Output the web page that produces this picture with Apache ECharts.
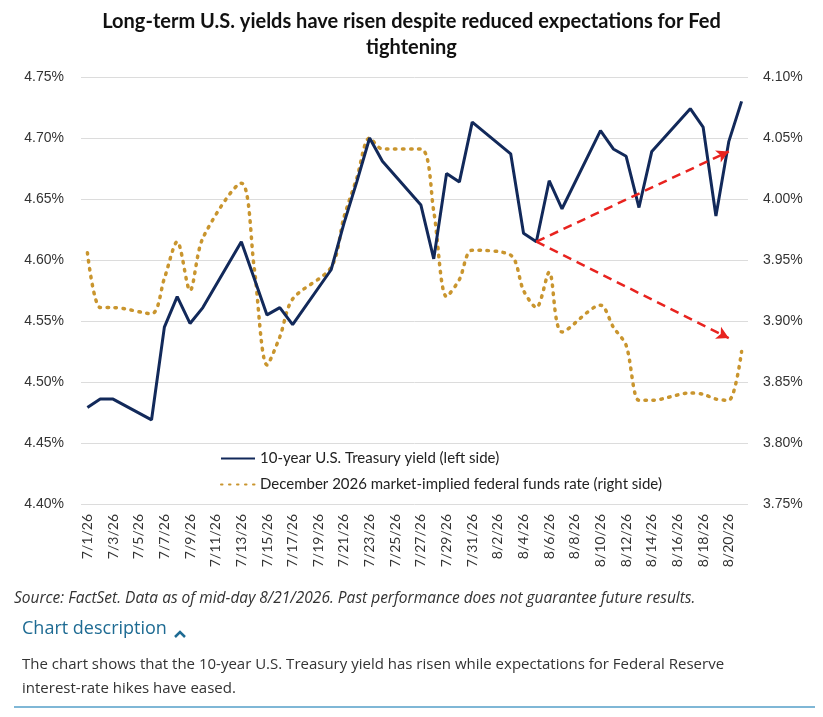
<!DOCTYPE html>
<html>
<head>
<meta charset="utf-8">
<script src="https://cdn.jsdelivr.net/npm/echarts@6/dist/echarts.min.js"></script>
<style>
html,body{margin:0;padding:0;background:#fff;}
#c{width:823px;height:717px;}
</style>
</head>
<body>
<div id="c"></div>
<script>
const dates = ['7/1/26','7/2/26','7/3/26','7/4/26','7/5/26','7/6/26','7/7/26','7/8/26','7/9/26','7/10/26',
 '7/11/26','7/12/26','7/13/26','7/14/26','7/15/26','7/16/26','7/17/26','7/18/26','7/19/26','7/20/26',
 '7/21/26','7/22/26','7/23/26','7/24/26','7/25/26','7/26/26','7/27/26','7/28/26','7/29/26','7/30/26',
 '7/31/26','8/1/26','8/2/26','8/3/26','8/4/26','8/5/26','8/6/26','8/7/26','8/8/26','8/9/26',
 '8/10/26','8/11/26','8/12/26','8/13/26','8/14/26','8/15/26','8/16/26','8/17/26','8/18/26','8/19/26',
 '8/20/26','8/21/26'];

const treasury10y = [4.479,4.486,4.486,null,null,4.469,4.545,4.570,4.548,4.561,
 null,null,4.615,4.585,4.555,4.561,4.547,null,null,4.592,
 4.630,4.664,4.700,4.681,null,null,4.645,4.601,4.671,4.664,
 4.713,null,null,4.687,4.622,4.615,4.665,4.642,null,null,
 4.706,4.691,4.685,4.643,4.689,null,null,4.724,4.709,4.636,
 4.697,4.730];

const fedFunds = [3.956,3.911,3.911,null,null,3.906,3.935,3.965,3.925,3.968,
 null,null,4.013,3.944,3.864,3.887,3.918,null,null,3.944,
 3.985,4.017,4.050,4.041,null,null,4.041,3.990,3.920,3.934,
 3.958,null,null,3.954,3.925,3.911,3.940,3.891,null,null,
 3.913,3.895,3.880,3.835,3.835,null,null,3.841,3.840,3.836,
 3.835,3.875];

const leftTicks = {min:4.40, max:4.75, step:0.05};
const rightTicks = {min:3.75, max:4.10, step:0.05};

const arrowStart = ['8/5/26', 4.615];
const arrowUpEnd = ['8/20/26', 4.689];
const arrowDownEnd = ['8/20/26', 4.536];

const chart = echarts.init(document.getElementById('c'), null, {renderer:'canvas'});
const pct = v => v.toFixed(2) + '%';

chart.setOption({
  animation:false,
  backgroundColor:'#fff',
  title:{
    text:'Long-term U.S. yields have risen despite reduced expectations for Fed\ntightening',
    left:'center', top:4,
    textStyle:{fontFamily:'Lato', fontWeight:'bold', fontSize:20, color:'#111', lineHeight:26}
  },
  grid:{left:81, right:75, top:77, bottom:213, containLabel:false},
  legend:{
    orient:'vertical', left:215, top:446, itemWidth:34, itemHeight:10, itemGap:11,
    itemStyle:{color:'transparent', borderColor:'transparent', borderWidth:0},
    textStyle:{fontFamily:'Lato', fontSize:15, color:'#222'},
    data:['10-year U.S. Treasury yield (left side)','December 2026 market-implied federal funds rate (right side)']
  },
  xAxis:{
    type:'category', data:dates, boundaryGap:true,
    axisLine:{show:false}, axisTick:{show:false},
    axisLabel:{interval:1, rotate:90, margin:10, fontFamily:'Lato', fontSize:14, color:'#333'}
  },
  yAxis:[
    {type:'value', min:leftTicks.min, max:leftTicks.max, interval:leftTicks.step, position:'left',
     axisLine:{show:false}, axisTick:{show:false},
     axisLabel:{formatter:pct, margin:17, fontFamily:'Liberation Sans', fontSize:14, color:'#333'},
     splitLine:{lineStyle:{color:'#dcdcdc', width:1}}},
    {type:'value', min:rightTicks.min, max:rightTicks.max, interval:rightTicks.step, position:'right',
     axisLine:{show:false}, axisTick:{show:false},
     axisLabel:{formatter:pct, margin:15, fontFamily:'Liberation Sans', fontSize:14, color:'#333'},
     splitLine:{show:false}}
  ],
  series:[
    {name:'December 2026 market-implied federal funds rate (right side)', type:'line', yAxisIndex:1,
     data:fedFunds, connectNulls:true, symbol:'none', smooth:0.3, z:2,
     itemStyle:{color:'#c9952e'},
     lineStyle:{color:'#c9952e', width:3.5, type:[1.5,6.5], cap:'round'}},
    {name:'10-year U.S. Treasury yield (left side)', type:'line', yAxisIndex:0,
     data:treasury10y, connectNulls:true, symbol:'none', z:3,
     itemStyle:{color:'#12295a'},
     lineStyle:{color:'#12295a', width:3},
     markLine:{
       silent:true, symbol:['none','arrow'], symbolSize:[10,12],
       label:{show:false},
       lineStyle:{color:'#e8231f', width:2.5, type:[9,6]},
       data:[
         [{coord:arrowStart},{coord:arrowUpEnd}],
         [{coord:arrowStart},{coord:arrowDownEnd}]
       ]
     }}
  ],
  graphic:[
    {type:'text', left:14, top:591, style:{text:'Source: FactSet. Data as of mid-day 8/21/2026. Past performance does not guarantee future results.',
      font:'italic 15.5px "Open Sans"', fill:'#333'}},
    {type:'text', left:22, top:620, style:{text:'Chart description', font:'18px "Open Sans"', fill:'#1e6b93'}},
    {type:'polyline', shape:{points:[[175,637],[180,632],[185,637]]}, style:{stroke:'#1e6b93', lineWidth:2.5, fill:null}},
    {type:'text', left:22, top:653, style:{text:'The chart shows that the 10-year U.S. Treasury yield has risen while expectations for Federal Reserve\ninterest-rate hikes have eased.',
      font:'15px "Open Sans"', fill:'#333', lineHeight:24}},
    {type:'rect', shape:{x:14, y:706, width:801, height:2}, style:{fill:'#7fb7d6'}}
  ]
});
</script>
</body>
</html>
